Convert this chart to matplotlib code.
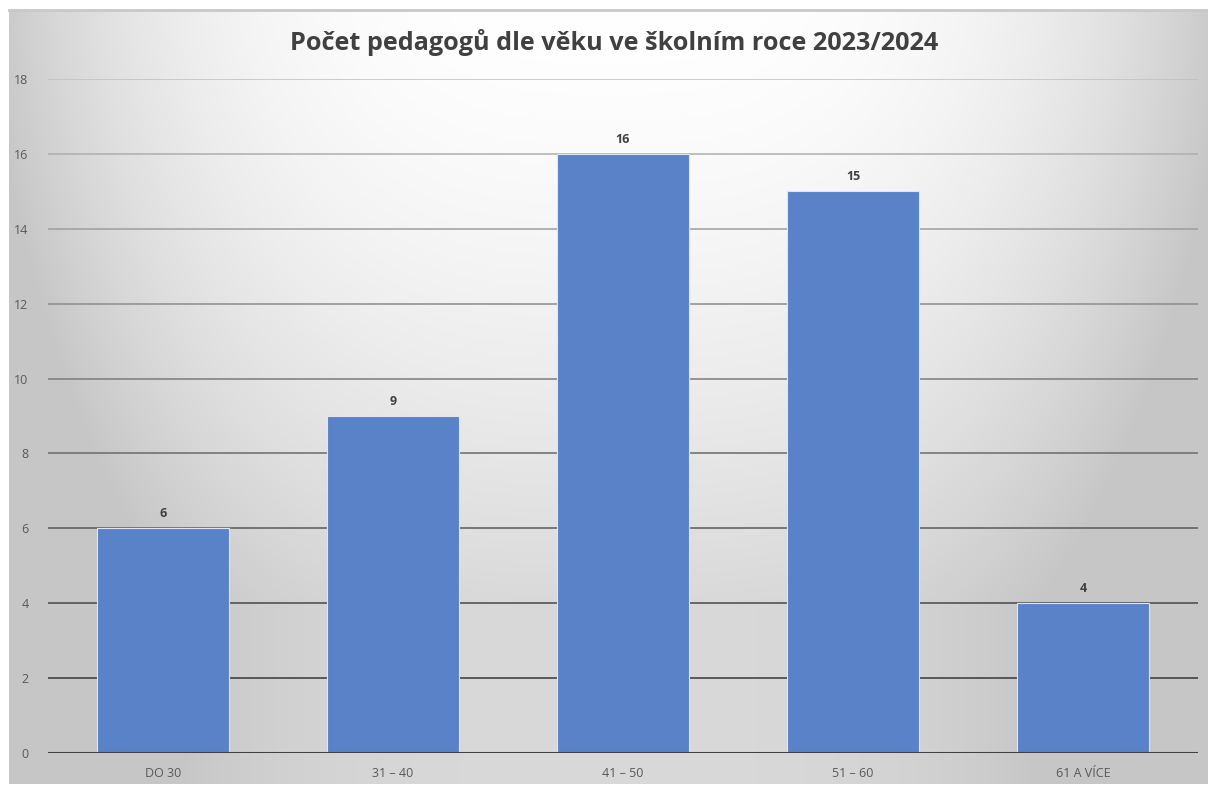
import numpy as np
import matplotlib
matplotlib.use("Agg")
import matplotlib.pyplot as plt

categories = ["DO 30", "31 – 40", "41 – 50", "51 – 60", "61 A VÍCE"]
values = [6, 9, 16, 15, 4]
yticks = [0, 2, 4, 6, 8, 10, 12, 14, 16, 18]
title = "Počet pedagogů dle věku ve školním roce 2023/2024"

plt.rcParams['font.family'] = ['Open Sans', 'DejaVu Sans']

W, H = 1208, 785
fig = plt.figure(figsize=(W / 100, H / 100), dpi=100)
fig.patch.set_facecolor("white")

# background panel with gradient
bx0, by0, bx1, by1 = 9, 10, 1208, 784
bg = fig.add_axes([bx0 / W, 1 - by1 / H, (bx1 - bx0) / W, (by1 - by0) / H])
bg.set_axis_off()
ny, nx = 300, 460
yy, xx = np.mgrid[0:ny, 0:nx]
u = (xx / (nx - 1) - 0.5) * (bx1 - bx0)
v = (yy / (ny - 1)) * (by1 - by0)
g = 1.0 - 0.20 * (np.abs(u) / 600.0) ** 3 - 0.15 * np.clip(v / 600.0, 0, 1) ** 1.5
g = np.clip(g, 0.78, 1.0)
img = np.dstack([g, g, g])
bg.imshow(img, aspect='auto', extent=[0, 1, 0, 1], origin='upper', interpolation='bilinear')
bg.plot([0, 1], [1, 1], color="#c8c8c8", lw=2, transform=bg.transAxes, clip_on=False)
bg.set_xlim(0, 1)
bg.set_ylim(0, 1)

# plot area
px0, px1, py0, py1 = 48, 1198, 79, 753
ax = fig.add_axes([px0 / W, 1 - py1 / H, (px1 - px0) / W, (py1 - py0) / H])
ax.patch.set_alpha(0)
ax.set_xlim(-0.5, len(categories) - 0.5)
ax.set_ylim(0, 18)

# gridlines with darkening tone toward bottom
for t in yticks[1:]:
    frac = t / 18.0
    c = 0.15 + 0.60 * frac
    ax.axhline(t, color=(c, c, c), lw=1.1, zorder=1)
ax.axhline(0, color="#404040", lw=2.2, zorder=4)

x = np.arange(len(categories))
bars = ax.bar(x, values, width=0.57, color="#5a82c8", edgecolor="#dfe6f2",
              linewidth=0.8, zorder=3)
for xi, val in zip(x, values):
    ax.text(xi, val + 0.22, str(val), ha='center', va='bottom', fontsize=9,
            fontweight='bold', color="#404040")

ax.set_yticks(yticks)
ax.set_yticklabels([str(t) for t in yticks])
ax.set_xticks(x)
ax.set_xticklabels(categories)
ax.tick_params(axis='both', length=0, labelsize=9, labelcolor="#595959")
ax.tick_params(axis='y', pad=14)
ax.tick_params(axis='x', pad=10)
for s in ax.spines.values():
    s.set_visible(False)

fig.text(614 / W, 1 - 43 / H, title, ha='center', va='center', fontsize=18.2,
         fontweight='bold', color="#404040")

fig.savefig("out.png", dpi=100, facecolor="white")
